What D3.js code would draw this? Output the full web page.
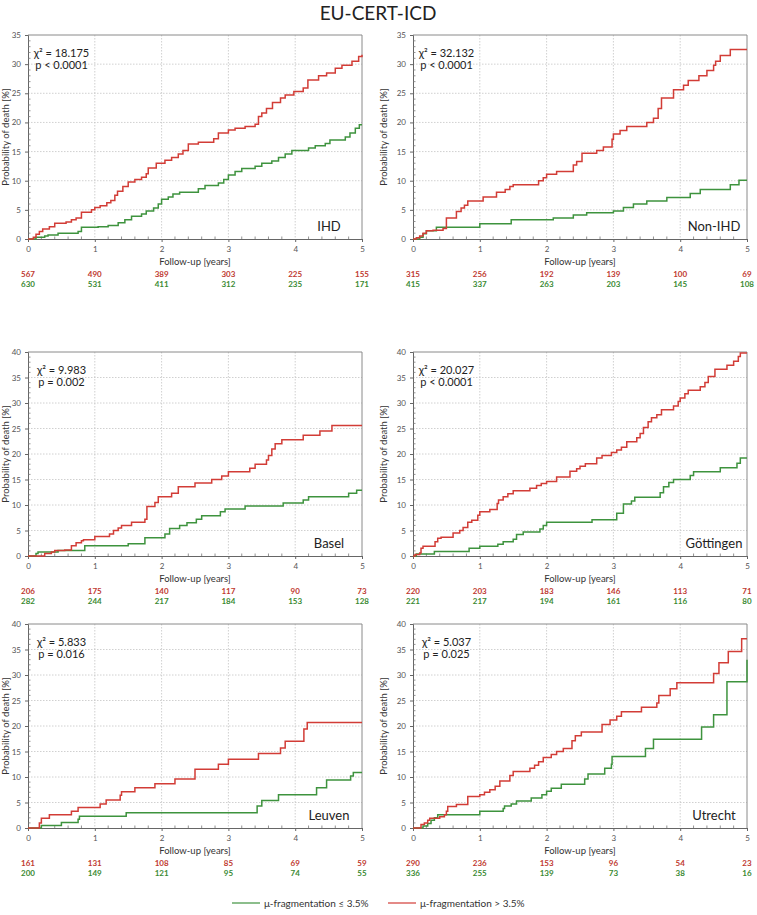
<!DOCTYPE html>
<html><head><meta charset="utf-8">
<script src="https://cdn.jsdelivr.net/npm/d3@7"></script>
<style>
body{margin:0;background:#fff;}
svg{display:block;font-family:Lato,"Open Sans",sans-serif;}
</style></head>
<body><svg id="c" width="757" height="915"></svg>
<script>
// ---------------- DATA ----------------
const panelNames = ["IHD","Non-IHD","Basel","Göttingen","Leuven","Utrecht"];
const chiValues = ["18.175","32.132","9.983","20.027","5.833","5.037"];
const pTexts = ["p < 0.0001","p < 0.0001","p = 0.002","p < 0.0001","p = 0.016","p = 0.025"];
const yMaxes = [35,35,40,40,40,40];
const xTicks = [0,1,2,3,4,5];
const legendLabels = ["μ-fragmentation ≤ 3.5%","μ-fragmentation > 3.5%"];

// numbers at risk (high = > 3.5%, red; low = ≤ 3.5%, green)
const riskHigh = [
  [567,490,389,303,225,155],
  [315,256,192,139,100,69],
  [206,175,140,117,90,73],
  [220,203,183,146,113,71],
  [161,131,108,85,69,59],
  [290,236,153,96,54,23]
];
const riskLow = [
  [630,531,411,312,235,171],
  [415,337,263,203,145,108],
  [282,244,217,184,153,128],
  [221,217,194,161,116,80],
  [200,149,121,95,74,55],
  [336,255,139,73,38,16]
];

// Kaplan-Meier steps [time (years), cumulative probability of death (%)]
const ihdHigh = [[0,0],[0.08,0.3],[0.12,0.8],[0.17,1.3],[0.22,1.7],[0.32,2.1],[0.4,2.7],[0.57,2.9],[0.65,3.3],[0.72,3.6],[0.8,4.6],[0.95,5.0],[1.0,5.4],[1.08,5.7],[1.18,6.2],[1.24,6.6],[1.3,7.5],[1.34,8.2],[1.42,9.0],[1.5,9.8],[1.6,10.2],[1.7,10.6],[1.77,11.2],[1.8,12.2],[1.92,13.0],[2.05,13.5],[2.15,14.0],[2.25,14.6],[2.32,15.2],[2.4,16.3],[2.55,16.6],[2.78,17.2],[2.85,18.2],[3.0,18.7],[3.1,19.0],[3.25,19.3],[3.4,19.7],[3.45,21.0],[3.5,21.6],[3.57,22.4],[3.66,23.4],[3.78,24.2],[3.85,24.7],[3.98,25.3],[4.12,25.9],[4.19,27.3],[4.35,28.0],[4.47,28.5],[4.6,29.3],[4.7,29.8],[4.85,30.5],[4.95,31.3],[5,31.6]];
const ihdLow = [[0,0],[0.12,0.3],[0.25,0.5],[0.3,0.7],[0.45,1.0],[0.75,1.3],[0.8,2.0],[1.05,2.1],[1.2,2.3],[1.35,2.8],[1.45,3.3],[1.55,3.9],[1.7,4.3],[1.77,4.8],[1.88,5.3],[1.95,6.0],[2.0,6.8],[2.1,7.2],[2.17,7.7],[2.27,8.0],[2.55,8.6],[2.65,9.2],[2.85,9.6],[2.93,10.2],[3.0,11.0],[3.1,11.6],[3.2,12.1],[3.4,12.5],[3.5,13.0],[3.65,13.4],[3.75,14.0],[3.85,14.6],[3.95,15.2],[4.2,15.6],[4.3,16.0],[4.45,16.4],[4.52,17.0],[4.75,17.5],[4.82,18.2],[4.9,19.0],[4.96,19.6],[5,19.6]];

const nonIhdHigh = [[0,0],[0.05,0.2],[0.1,0.5],[0.15,1.0],[0.2,1.4],[0.3,1.5],[0.45,1.8],[0.5,3.6],[0.65,4.7],[0.72,5.3],[0.77,5.8],[0.82,6.5],[1.05,7.2],[1.25,8.0],[1.38,8.5],[1.45,9.0],[1.5,9.3],[1.88,10.0],[1.95,10.5],[2.0,11.1],[2.15,11.6],[2.4,12.7],[2.45,13.3],[2.53,14.7],[2.75,15.2],[2.85,15.8],[2.98,17.1],[3.0,18.0],[3.1,18.6],[3.2,19.3],[3.5,20.0],[3.6,20.7],[3.67,22.4],[3.72,24.2],[3.9,25.6],[4.05,26.4],[4.12,27.2],[4.28,28.0],[4.4,28.9],[4.5,29.8],[4.53,30.5],[4.6,31.5],[4.75,32.5],[5,32.5]];
const nonIhdLow = [[0,0],[0.1,0.3],[0.15,0.9],[0.2,1.4],[0.35,2.0],[1.0,2.6],[1.47,3.3],[2.1,3.6],[2.4,4.1],[2.6,4.5],[3.0,4.8],[3.15,5.4],[3.3,6.0],[3.5,6.5],[3.8,7.1],[4.15,7.8],[4.3,8.5],[4.75,9.3],[4.88,10.1],[5,10.1]];

const baselHigh = [[0,0],[0.25,0.5],[0.35,0.8],[0.4,1.1],[0.55,1.2],[0.65,2.0],[0.72,2.6],[0.8,3.0],[0.83,3.2],[1.0,3.8],[1.22,4.3],[1.28,5.0],[1.35,5.5],[1.4,6.0],[1.55,6.6],[1.75,7.2],[1.78,9.7],[1.9,10.5],[1.95,11.6],[2.15,12.3],[2.25,13.6],[2.5,14.3],[2.75,15.0],[2.9,15.7],[3.0,16.5],[3.32,17.2],[3.4,18.0],[3.57,18.8],[3.6,19.7],[3.65,21.0],[3.7,22.0],[3.8,22.8],[4.12,23.7],[4.37,24.5],[4.55,25.6],[5,25.6]];
const baselLow = [[0,0],[0.12,0.5],[0.15,0.8],[0.45,1.1],[0.85,2.0],[1.5,2.4],[1.75,3.6],[2.05,4.3],[2.12,5.4],[2.27,6.0],[2.38,6.5],[2.52,7.2],[2.6,7.9],[2.88,8.7],[2.95,9.2],[3.25,9.8],[3.82,10.4],[4.12,11.0],[4.2,11.6],[4.8,12.3],[4.92,12.9],[5,12.9]];

const gottHigh = [[0,0],[0.03,0.3],[0.1,0.6],[0.12,1.5],[0.15,1.9],[0.33,2.8],[0.37,3.5],[0.42,3.7],[0.6,4.5],[0.7,5.0],[0.75,5.6],[0.82,6.6],[0.88,7.0],[0.97,8.0],[1.0,8.7],[1.15,9.1],[1.26,10.3],[1.28,11.0],[1.35,11.6],[1.42,12.2],[1.5,12.8],[1.75,13.3],[1.85,13.8],[1.92,14.2],[2.0,14.6],[2.15,15.5],[2.35,16.6],[2.45,17.1],[2.5,17.6],[2.58,18.1],[2.75,19.2],[2.83,19.7],[2.97,20.3],[3.05,20.8],[3.12,21.3],[3.2,22.4],[3.35,23.2],[3.4,24.0],[3.45,25.2],[3.52,26.3],[3.57,27.1],[3.65,27.7],[3.72,28.7],[3.9,29.4],[3.97,30.3],[4.0,31.0],[4.07,31.8],[4.12,32.5],[4.3,33.2],[4.37,34.0],[4.42,35.2],[4.52,36.6],[4.7,37.4],[4.8,38.2],[4.87,39.1],[4.9,39.8],[5,39.8]];
const gottLow = [[0,0],[0.05,0.4],[0.32,0.9],[0.84,1.5],[1.0,1.9],[1.27,2.3],[1.35,2.8],[1.5,3.3],[1.55,4.2],[1.65,4.7],[1.9,5.3],[1.95,6.0],[2.0,6.6],[2.68,7.1],[3.05,8.4],[3.15,10.2],[3.27,10.8],[3.32,11.5],[3.7,12.4],[3.75,13.6],[3.83,14.4],[3.9,15.0],[4.15,15.8],[4.2,16.5],[4.6,17.3],[4.85,18.2],[4.9,19.2],[5,19.2]];

const leuvenHigh = [[0,0],[0.17,1.0],[0.2,1.9],[0.32,2.6],[0.65,3.3],[0.75,4.0],[1.08,4.7],[1.17,5.5],[1.38,6.4],[1.4,7.1],[1.6,7.9],[1.9,8.7],[2.2,9.6],[2.5,11.5],[2.85,12.5],[3.0,13.5],[3.45,14.6],[3.78,15.7],[3.85,17.0],[4.13,19.4],[4.18,20.7],[5,20.7]];
const leuvenLow = [[0,0],[0.2,0.5],[0.5,1.1],[0.75,1.7],[0.77,2.3],[1.47,3.0],[3.43,4.3],[3.5,5.4],[3.75,6.5],[4.32,7.9],[4.47,9.4],[4.83,10.2],[4.87,10.9],[5,10.9]];

const utrechtHigh = [[0,0],[0.12,0.7],[0.17,1.0],[0.22,1.5],[0.25,1.9],[0.4,2.2],[0.47,2.6],[0.5,3.3],[0.52,4.2],[0.65,4.6],[0.82,6.2],[1.0,6.5],[1.07,7.0],[1.15,7.5],[1.23,8.2],[1.3,9.2],[1.45,10.3],[1.5,11.1],[1.75,11.7],[1.82,12.3],[1.88,13.0],[1.95,13.8],[2.07,14.4],[2.15,15.0],[2.25,15.6],[2.38,17.1],[2.43,18.1],[2.52,18.8],[2.83,20.3],[2.95,21.2],[3.05,21.9],[3.12,22.8],[3.42,23.7],[3.65,24.5],[3.68,26.0],[3.85,27.3],[3.95,28.5],[4.5,30.3],[4.58,32.4],[4.72,34.6],[4.92,37.1],[5,37.1]];
const utrechtLow = [[0,0],[0.15,0.4],[0.22,0.9],[0.27,1.5],[0.32,2.0],[0.37,2.6],[1.0,3.3],[1.35,3.8],[1.37,4.3],[1.47,4.7],[1.55,5.3],[1.77,5.9],[1.93,6.5],[2.0,7.2],[2.07,7.8],[2.22,8.6],[2.57,9.6],[2.62,10.6],[2.87,11.7],[2.97,12.5],[2.98,14.0],[3.48,15.6],[3.6,17.4],[4.32,19.8],[4.5,22.2],[4.7,28.7],[5,33.0]];

const seriesHigh = [ihdHigh, nonIhdHigh, baselHigh, gottHigh, leuvenHigh, utrechtHigh];
const seriesLow = [ihdLow, nonIhdLow, baselLow, gottLow, leuvenLow, utrechtLow];

// ---------------- STYLE / LAYOUT ----------------
const RED = "#d23c36", GREEN = "#3e933e";
const RED_TXT = "#c0392f", GREEN_TXT = "#3a8a32";
const colX = [28, 413], plotW = 334;
const rowTop = [35, 352, 624], rowBottom = [239, 556, 828];
const yLabelX = [6, 384];

const svg = d3.select("#c");

svg.append("text").attr("x", 378).attr("y", 20).attr("text-anchor","middle")
  .attr("font-size", 19).attr("fill","#222").text("EU-CERT-ICD");

panelNames.forEach((name, i) => {
  const col = i % 2, row = Math.floor(i / 2);
  const x0 = colX[col], x1 = x0 + plotW;
  const yT = rowTop[row], yB = rowBottom[row];
  const ymax = yMaxes[i];
  const x = d3.scaleLinear().domain([0,5]).range([x0, x1]);
  const y = d3.scaleLinear().domain([0, ymax]).range([yB, yT]);
  const g = svg.append("g");

  // grid
  const yMajor = d3.range(5, ymax, 5);
  g.selectAll(null).data(yMajor).join("line")
    .attr("x1", x0).attr("x2", x1).attr("y1", d=>y(d)).attr("y2", d=>y(d))
    .attr("stroke","#c4c4c4").attr("stroke-width",0.8).attr("stroke-dasharray","1.5,1.5");
  g.selectAll(null).data([1,2,3,4]).join("line")
    .attr("y1", yT).attr("y2", yB).attr("x1", d=>x(d)).attr("x2", d=>x(d))
    .attr("stroke","#c4c4c4").attr("stroke-width",0.8).attr("stroke-dasharray","1.5,1.5");

  // border top/right
  g.append("path").attr("d", `M${x0},${yT}H${x1}V${yB}`).attr("fill","none")
    .attr("stroke","#8a8a8a").attr("stroke-width",1);

  // x axis
  const xAxis = d3.axisBottom(x).tickValues(xTicks).tickSize(3).tickPadding(4).tickFormat(d3.format("d"));
  const gx = g.append("g").attr("transform", `translate(0,${yB})`).call(xAxis);
  gx.select(".domain").attr("stroke","#666");
  gx.selectAll(".tick line").attr("stroke","#666");
  gx.selectAll("text").attr("font-size", 8).attr("fill","#555").attr("font-family","Lato, sans-serif");
  const xMinor = d3.range(0, 5.001, 0.2).filter(v => Math.abs(v - Math.round(v)) > 1e-6);
  g.selectAll(null).data(xMinor).join("line")
    .attr("x1", d=>x(d)).attr("x2", d=>x(d)).attr("y1", yB).attr("y2", yB-2.5)
    .attr("stroke","#777").attr("stroke-width",0.8);

  // y axis
  const yAxis = d3.axisLeft(y).tickValues(d3.range(0, ymax+0.1, 5)).tickSize(3).tickPadding(4);
  const gy = g.append("g").attr("transform", `translate(${x0},0)`).call(yAxis);
  gy.select(".domain").attr("stroke","#666");
  gy.selectAll(".tick line").attr("stroke","#666");
  gy.selectAll("text").attr("font-size", 8).attr("fill","#555").attr("font-family","Lato, sans-serif");
  const yMinor = d3.range(0, ymax+0.1, 1).filter(v => v % 5 !== 0);
  g.selectAll(null).data(yMinor).join("line")
    .attr("x1", x0).attr("x2", x0+2.5).attr("y1", d=>y(d)).attr("y2", d=>y(d))
    .attr("stroke","#777").attr("stroke-width",0.8);

  // axis titles
  g.append("text").attr("x", (x0+x1)/2).attr("y", yB+26).attr("text-anchor","middle")
    .attr("font-size", 9.5).attr("fill","#333").text("Follow-up [years]");
  g.append("text").attr("transform", `translate(${yLabelX[col]+3},${(yT+yB)/2}) rotate(-90)`)
    .attr("text-anchor","middle").attr("font-size", 9.5).attr("fill","#333").text("Probability of death [%]");

  // curves
  const line = d3.line().x(d=>x(d[0])).y(d=>y(d[1])).curve(d3.curveStepAfter);
  g.append("path").datum(seriesLow[i]).attr("d", line).attr("fill","none")
    .attr("stroke", GREEN).attr("stroke-width",1.5);
  g.append("path").datum(seriesHigh[i]).attr("d", line).attr("fill","none")
    .attr("stroke", RED).attr("stroke-width",1.5);

  // statistics
  const cx = x0 + 33.5;
  g.append("text").attr("x", cx).attr("y", yT+22).attr("text-anchor","middle")
    .attr("font-size", 11).attr("fill","#222").text("χ² = " + chiValues[i]);
  g.append("text").attr("x", cx).attr("y", yT+34).attr("text-anchor","middle")
    .attr("font-size", 11).attr("fill","#222").text(pTexts[i]);

  // panel name
  g.append("text").attr("x", x0+301).attr("y", yB-8).attr("text-anchor","middle")
    .attr("font-size", 13).attr("fill","#222").text(name);

  // numbers at risk
  g.selectAll(null).data(riskHigh[i]).join("text")
    .attr("x", (d,k)=>x(xTicks[k])).attr("y", yB+38).attr("text-anchor","middle")
    .attr("font-size", 8).attr("font-weight","bold").attr("fill", RED_TXT).text(d=>d);
  g.selectAll(null).data(riskLow[i]).join("text")
    .attr("x", (d,k)=>x(xTicks[k])).attr("y", yB+48).attr("text-anchor","middle")
    .attr("font-size", 8).attr("font-weight","bold").attr("fill", GREEN_TXT).text(d=>d);
});

// legend
const legend = svg.append("g");
const legItems = [{x:232, c:GREEN, t:legendLabels[0]}, {x:388, c:RED, t:legendLabels[1]}];
legItems.forEach(it => {
  legend.append("line").attr("x1", it.x).attr("x2", it.x+28).attr("y1", 903).attr("y2", 903)
    .attr("stroke", it.c).attr("stroke-width",1.2);
  legend.append("text").attr("x", it.x+32).attr("y", 906.5).attr("font-size", 10)
    .attr("fill","#333").text(it.t);
});
</script></body></html>
